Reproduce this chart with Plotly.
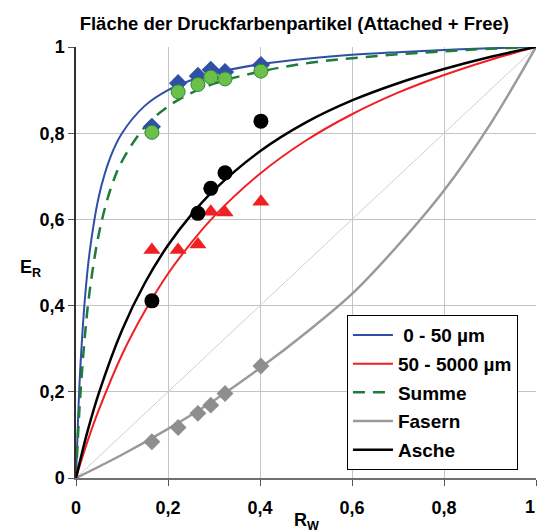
import plotly.graph_objects as go

# measured points
rw_pts = [0.165, 0.222, 0.265, 0.293, 0.324, 0.402]
er_fine = [0.815, 0.916, 0.933, 0.947, 0.942, 0.958]
er_sum = [0.802, 0.896, 0.913, 0.930, 0.926, 0.944]
er_coarse = [0.529, 0.529, 0.542, 0.618, 0.616, 0.641]
er_fiber = [0.084, 0.117, 0.150, 0.169, 0.196, 0.260]
rw_ash = [0.165, 0.265, 0.293, 0.324, 0.402]
er_ash = [0.411, 0.614, 0.672, 0.708, 0.828]

# fitted curves
rw_curve_fast = [0, 0.005, 0.01, 0.02, 0.03, 0.05, 0.075, 0.1, 0.15, 0.2, 0.25, 0.3, 0.4, 0.5, 0.6, 0.7, 0.8, 0.9, 1.0]
er_curve_fine = [0, 0.153, 0.267, 0.424, 0.527, 0.655, 0.745, 0.800, 0.864, 0.900, 0.923, 0.939, 0.960, 0.973, 0.982, 0.988, 0.993, 0.997, 1.0]
er_curve_sum = [0, 0.112, 0.202, 0.338, 0.436, 0.568, 0.670, 0.735, 0.815, 0.862, 0.893, 0.915, 0.943, 0.962, 0.974, 0.983, 0.990, 0.996, 1.0]
rw_curve = [0, 0.01, 0.025, 0.05, 0.1, 0.15, 0.2, 0.25, 0.3, 0.4, 0.5, 0.6, 0.7, 0.8, 0.9, 1.0]
er_curve_coarse = [0, 0.035, 0.085, 0.159, 0.286, 0.388, 0.474, 0.545, 0.607, 0.706, 0.783, 0.844, 0.894, 0.935, 0.970, 1.0]
er_curve_ash = [0, 0.045, 0.108, 0.198, 0.343, 0.453, 0.540, 0.610, 0.668, 0.758, 0.825, 0.876, 0.916, 0.949, 0.977, 1.0]
rw_curve_fiber = [0, 0.1, 0.2, 0.3, 0.4, 0.5, 0.6, 0.7, 0.8, 0.9, 1.0]
er_curve_fiber = [0, 0.054, 0.114, 0.180, 0.255, 0.337, 0.427, 0.540, 0.667, 0.820, 1.0]
diag = [0, 1]

tick_vals = [0, 0.2, 0.4, 0.6, 0.8, 1]
tick_text = ["0", "0,2", "0,4", "0,6", "0,8", "1"]

BLUE = "#2f4fa6"
RED = "#ee2024"
GREEN = "#1e7b3a"
LGREEN = "#6cc04a"
GRAY = "#9a9a9a"
FONT = "Liberation Sans, Arial"

fig = go.Figure()
fig.add_trace(go.Scatter(x=diag, y=diag, mode="lines", line=dict(color="#cfcfcf", width=1),
                         showlegend=False, hoverinfo="skip"))

# curves
fig.add_trace(go.Scatter(x=rw_curve_fast, y=er_curve_fine, mode="lines", name=" 0 - 50 µm",
                         line=dict(color=BLUE, width=2, shape="spline"), legendgroup="a"))
fig.add_trace(go.Scatter(x=rw_curve, y=er_curve_coarse, mode="lines", name="50 - 5000 µm",
                         line=dict(color=RED, width=2, shape="spline"), legendgroup="b"))
fig.add_trace(go.Scatter(x=rw_curve_fast, y=er_curve_sum, mode="lines", name="Summe",
                         line=dict(color=GREEN, width=2.5, dash="12px,8px", shape="spline"), legendgroup="c"))
fig.add_trace(go.Scatter(x=rw_curve_fiber, y=er_curve_fiber, mode="lines", name="Fasern",
                         line=dict(color=GRAY, width=2.5, shape="spline"), legendgroup="d"))
fig.add_trace(go.Scatter(x=rw_curve, y=er_curve_ash, mode="lines", name="Asche",
                         line=dict(color="black", width=2.5, shape="spline"), legendgroup="e"))

# markers
fig.add_trace(go.Scatter(x=rw_pts, y=er_fiber, mode="markers", showlegend=False,
                         marker=dict(symbol="diamond", size=13, color="#8e8e8e")))
fig.add_trace(go.Scatter(x=rw_pts, y=er_coarse, mode="markers", showlegend=False,
                         marker=dict(symbol="triangle-up", size=15, color=RED)))
fig.add_trace(go.Scatter(x=rw_ash, y=er_ash, mode="markers", showlegend=False,
                         marker=dict(symbol="circle", size=15, color="black")))
fig.add_trace(go.Scatter(x=rw_pts, y=er_fine, mode="markers", showlegend=False,
                         marker=dict(symbol="diamond", size=14, color="#3050a8")))
fig.add_trace(go.Scatter(x=rw_pts, y=er_sum, mode="markers", showlegend=False,
                         marker=dict(symbol="circle", size=14, color=LGREEN,
                                     line=dict(color="#2a8a3a", width=1))))

axis_common = dict(range=[0, 1], tickvals=tick_vals, ticktext=tick_text,
                   showgrid=True, gridcolor="#c4c4c4", gridwidth=1, zeroline=False,
                   ticks="outside", ticklen=6, tickcolor="#555555",
                   tickfont=dict(family=FONT, size=18, color="black", weight="bold"))

fig.update_xaxes(**axis_common, showline=True, linecolor="#707070", linewidth=2,
                 ticklabelstandoff=6)
fig.update_yaxes(**axis_common, showline=True, linecolor="#303030", linewidth=1.5)

fig.update_layout(
    width=537, height=532,
    margin=dict(l=76, r=1, t=47, b=54),
    paper_bgcolor="white", plot_bgcolor="white",
    font=dict(family=FONT, color="black"),
    title=dict(text="<b>Fläche der Druckfarbenpartikel (Attached + Free)</b>",
               x=0.548, xanchor="center", y=0.955, yanchor="middle",
               font=dict(family=FONT, size=18.5, color="black")),
    legend=dict(x=0.589, y=0.378, xanchor="left", yanchor="top",
                bgcolor="white", bordercolor="black", borderwidth=1,
                font=dict(family=FONT, size=19, color="black", weight="bold"),
                tracegroupgap=1, itemwidth=40),
    annotations=[
        dict(text="<b>R<sub>W</sub></b>", x=0.5, y=-0.1, xref="paper", yref="paper",
             showarrow=False, font=dict(family=FONT, size=18, color="black"),
             xanchor="center", yanchor="middle"),
        dict(text="<b>E<sub>R</sub></b>", x=-0.1, y=0.487, xref="paper", yref="paper",
             showarrow=False, font=dict(family=FONT, size=18, color="black"),
             xanchor="center", yanchor="middle"),
        dict(text="<b>1</b>", x=1.002, y=-0.068, xref="paper", yref="paper",
             showarrow=False, font=dict(family=FONT, size=18, color="black"),
             xanchor="right", yanchor="middle"),
    ],
)

fig.write_html("out.html")
